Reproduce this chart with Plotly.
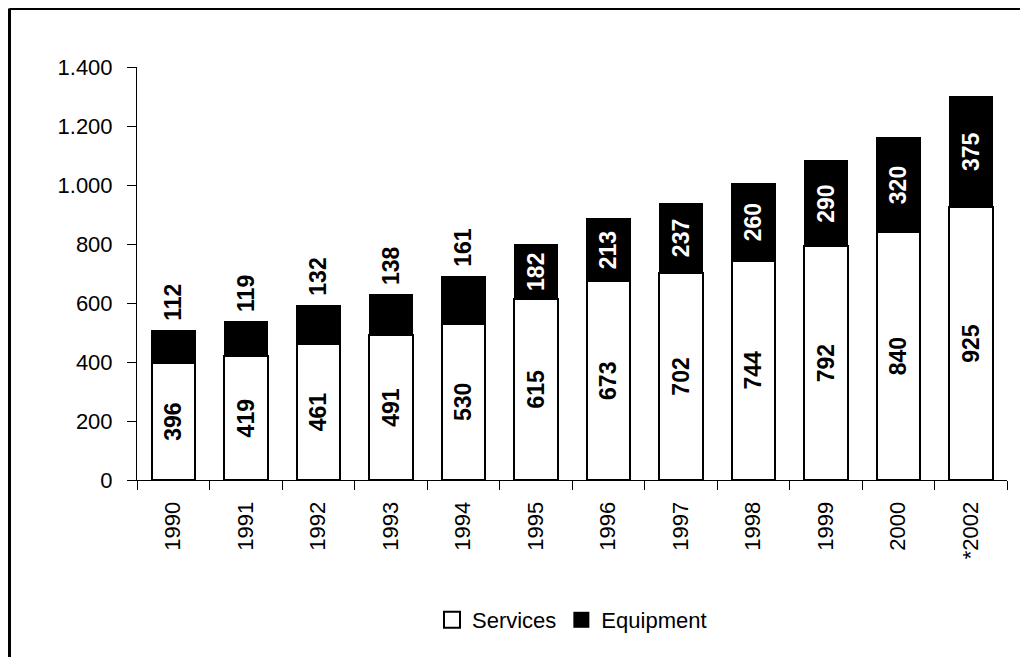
import plotly.graph_objects as go

years = ['1990', '1991', '1992', '1993', '1994', '1995', '1996', '1997',
         '1998', '1999', '2000', '*2002']
services = [396, 419, 461, 491, 530, 615, 673, 702, 744, 792, 840, 925]
equipment = [112, 119, 132, 138, 161, 182, 213, 237, 260, 290, 320, 375]

# small top segments get their label above the bar
eq_pos = ['outside' if v < 180 else 'inside' for v in equipment]
eq_color = ['black' if p == 'outside' else 'white' for p in eq_pos]
eq_text = ['\u00a0' + str(v) if p == 'outside' else str(v)
           for v, p in zip(equipment, eq_pos)]

W, H = 1028, 657
ML, MR, MT, MB = 129, 29, 59, 185
pw, ph = W - ML - MR, H - MT - MB

font = 'Liberation Sans, Arial, sans-serif'
lbl = dict(family=font, size=23, weight='bold')

fig = go.Figure()

fig.add_trace(go.Bar(
    x=years, y=services, name='Services', showlegend=False,
    marker=dict(color='white', line=dict(color='black', width=2)),
    text=[str(v) for v in services], textposition='inside',
    insidetextanchor='middle', textangle=-90, constraintext='none',
    textfont=dict(lbl, color='black'),
))

fig.add_trace(go.Bar(
    x=years, y=equipment, name='Equipment', showlegend=False,
    marker=dict(color='black', line=dict(color='black', width=1)),
    text=eq_text, textposition=eq_pos,
    insidetextanchor='middle', textangle=-90, constraintext='none',
    textfont=dict(lbl, color=eq_color),
    outsidetextfont=dict(lbl, color='black'),
    cliponaxis=False,
))

# legend-only entries with larger square swatches
fig.add_trace(go.Scatter(x=[None], y=[None], mode='markers', name='Services',
                         marker=dict(symbol='square', size=16, color='white',
                                     line=dict(color='black', width=2))))
fig.add_trace(go.Scatter(x=[None], y=[None], mode='markers', name='Equipment',
                         marker=dict(symbol='square', size=16, color='black')))

# frame lines (left and top) in paper coords
def px_x(p):
    return (p - ML) / pw

def px_y(p):
    return (H - MB - p) / ph

fig.add_shape(type='line', xref='paper', yref='paper',
              x0=px_x(1.5), x1=px_x(1040), y0=px_y(0.5), y1=px_y(0.5),
              line=dict(color='black', width=3))
fig.add_shape(type='line', xref='paper', yref='paper',
              x0=px_x(1.5), x1=px_x(1.5), y0=px_y(0.5), y1=px_y(670),
              line=dict(color='black', width=3))

fig.update_layout(
    width=W, height=H,
    margin=dict(l=ML, r=MR, t=MT, b=MB),
    barmode='stack', bargap=0.4,
    plot_bgcolor='white', paper_bgcolor='white',
    separators=',.',
    font=dict(family=font, size=22, color='black'),
    uniformtext=dict(minsize=23, mode='show'),
    showlegend=True,
    legend=dict(orientation='h', x=0.5, xanchor='center', y=px_y(612),
                yanchor='middle', font=dict(size=22), traceorder='normal',
                itemwidth=30),
    xaxis=dict(showline=True, linecolor='black', linewidth=1,
               ticks='outside', ticklen=9, tickcolor='black',
               tickson='boundaries', tickangle=-90, showgrid=False,
               ticklabelstandoff=12),
    yaxis=dict(range=[0, 1400], dtick=200, tickformat=',d',
               showline=True, linecolor='black', linewidth=1,
               ticks='outside', ticklen=9, tickcolor='black',
               showgrid=False, zeroline=False, ticklabelstandoff=10),
)

fig.write_html('out.html')
